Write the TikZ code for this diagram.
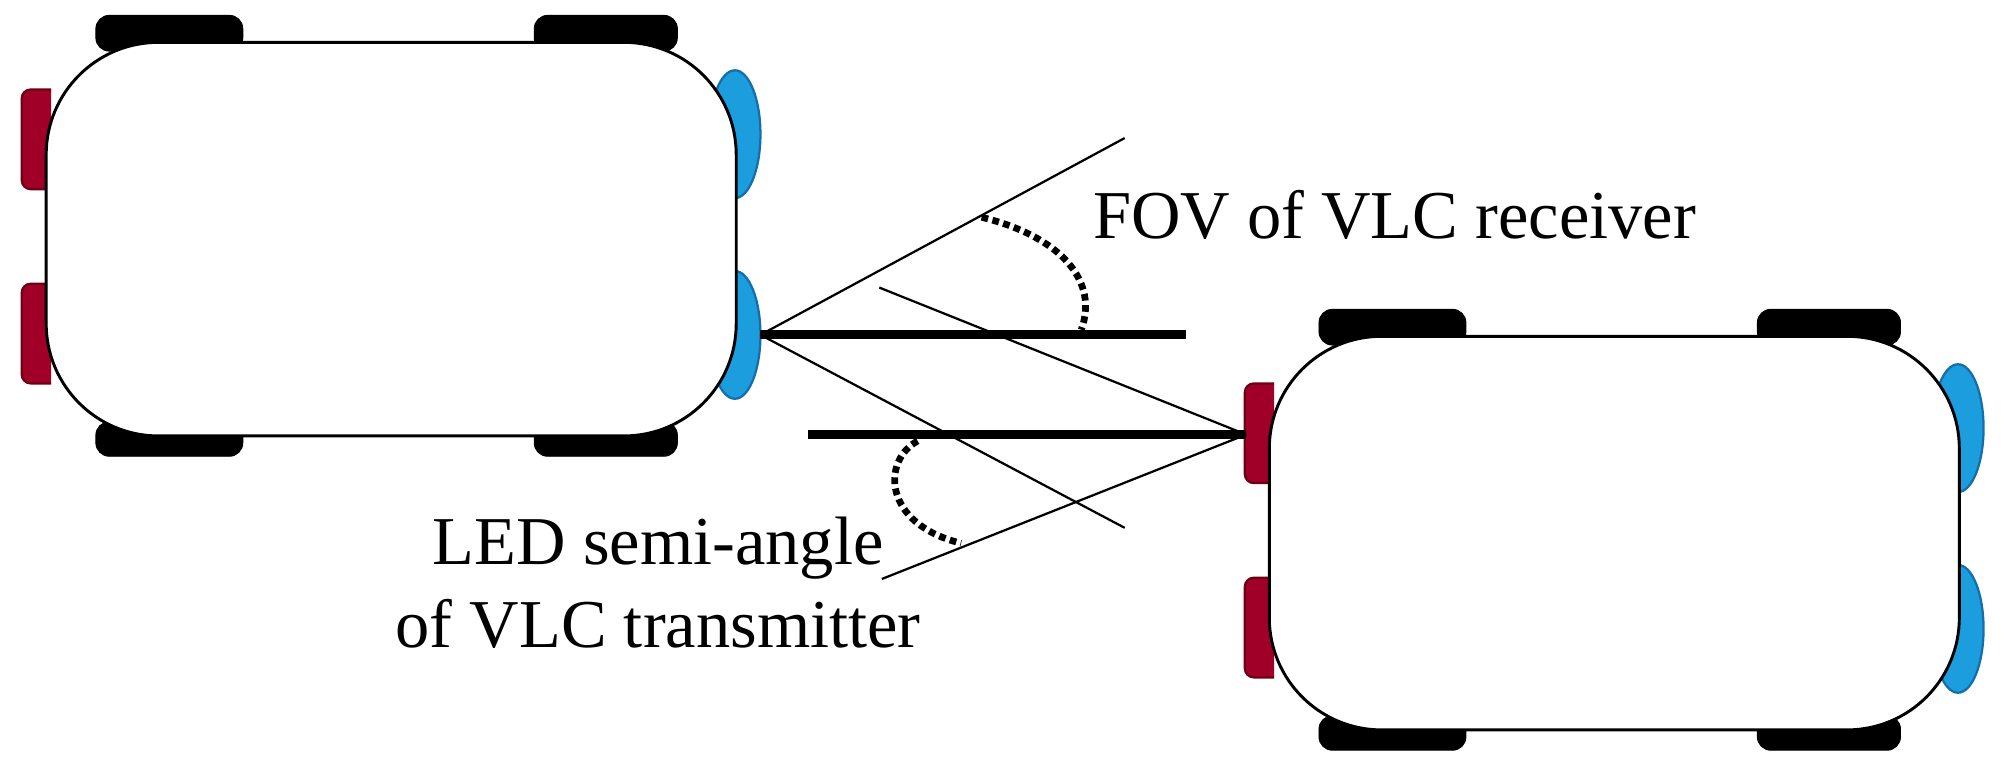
\documentclass[tikz,border=0pt]{standalone}
\usepackage{fontspec}
\setmainfont{Liberation Serif}
\definecolor{ledred}{RGB}{160,0,40}
\definecolor{ledredd}{RGB}{110,0,20}
\definecolor{ledblue}{RGB}{28,158,222}
\definecolor{ledblued}{RGB}{20,110,170}
\begin{document}
\begin{tikzpicture}[x=0.02cm,y=-0.02cm,
  wheel/.style={fill=black,draw=black,rounded corners=6},
  body/.style={draw=black,line width=1.3pt,fill=white,rounded corners=50},
  tail/.style={fill=ledred,draw=ledredd,line width=1pt,rounded corners=4},
  head/.style={fill=ledblue,draw=ledblued,line width=1pt},
  thin/.style={line width=1pt},
  thick/.style={line width=4pt},
  arc/.style={line width=3pt,dotted},
  lbl/.style={font=\fontsize{30.5}{37}\selectfont,inner sep=0pt}]
\useasboundingbox (0,0) rectangle (1568,606);
\foreach \ox/\oy/\n in {0/0/a,957/230/b}{
 \begin{scope}[shift={(\ox,\oy)}]
  \fill[wheel] (75,40) -- (75,12) -- (190,12) -- (190,40) -- cycle;
  \fill[wheel] (418,40) -- (418,12) -- (530,12) -- (530,40) -- cycle;
  \fill[wheel] (75,330) -- (75,357) -- (190,357) -- (190,330) -- cycle;
  \fill[wheel] (418,330) -- (418,357) -- (530,357) -- (530,330) -- cycle;
  \draw[tail] (40,70) -- (17,70) -- (17,148) -- (40,148);
  \draw[tail] (40,222) -- (17,222) -- (17,300) -- (40,300);
  \draw[head] (575,105) ellipse [x radius=20, y radius=50];
  \draw[head] (575,262) ellipse [x radius=20, y radius=50];
  \node[body,minimum width=1.08cm*10,minimum height=0.616cm*10,anchor=north west] (car\n) at (35,32) {};
 \end{scope}}
\coordinate (rx) at (595,262);
\coordinate (tx) at (975,340);
\coordinate (r1) at (928,262);
\coordinate (r2) at (880,108);
\coordinate (r3) at (880,413);
\coordinate (t1) at (632,340);
\coordinate (t2) at (688,225);
\coordinate (t3) at (690,453);
\draw[thick] (rx) -- (r1);
\draw[thin] (rx) -- (r2);
\draw[thin] (rx) -- (r3);
\draw[thick] (tx) -- (t1);
\draw[thin] (tx) -- (t2);
\draw[thin] (tx) -- (t3);
\draw[arc] (768,170) .. controls (830,185) and (860,220) .. (846,258);
\draw[arc] (718,345) .. controls (690,360) and (690,410) .. (752,425);
\node[lbl,anchor=west] (fov) at (855,168) {FOV of VLC receiver};
\node[lbl,align=center] (led) at (515,456) {LED semi-angle\\of VLC transmitter};
\end{tikzpicture}
\end{document}
